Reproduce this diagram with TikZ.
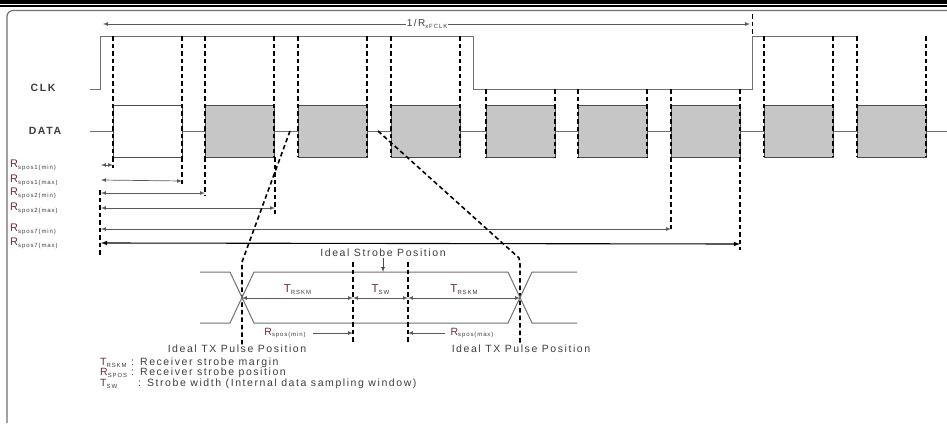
\documentclass[tikz,border=0pt]{standalone}
\usepackage{fontspec}
\setmainfont{Liberation Sans}
\newfontfamily\wide[LetterSpace=15]{Liberation Sans}
\definecolor{wave}{HTML}{707070}
\definecolor{cellfill}{HTML}{C6C6C6}
\definecolor{ink}{HTML}{3C3C3C}
\definecolor{maroon}{HTML}{6B2C40}
\newcommand{\lo}[1]{\raisebox{-0.35ex}{\fontsize{6}{6}\selectfont #1}}

\begin{document}
\begin{tikzpicture}[x=1pt, y=-1pt, sig/.style={draw=wave, line width=1pt}, strb/.style={draw=black, line width=1.6pt, dash pattern=on 4.5pt off 3pt}, cell/.style={draw=black!70, line width=1pt, fill=cellfill}, n/.style={latex-latex, line width=0.7pt, draw=black!65}, lab/.style={font=\wide\fontsize{10.5}{11}\selectfont, text=ink, inner sep=1pt}, rlab/.style={font=\wide\fontsize{11}{11}\selectfont, text=ink, inner sep=0pt, anchor=west}]
            \useasboundingbox (0,0) rectangle (947,423);
            % frame
            \fill[black] (0,0) rectangle (947,3.5);
            \draw[black, line width=1.2pt] (0,6) -- (947,6);
            \draw[wave, line width=1.2pt, rounded corners=6] (7,423) -- (7,10.5) -- (947,10.5);
            % nodes
            \node[lab, font=\wide\bfseries\fontsize{10.5}{11}\selectfont] (clk) at (43,88) {CLK};
            \node[lab, font=\wide\bfseries\fontsize{10.5}{11}\selectfont] (data) at (45,131) {DATA};
            \node[rlab] (r1min) at (10,165) {{\color{maroon}R}\lo{spos1(min)}};
            \node[rlab] (r1max) at (10,180) {{\color{maroon}R}\lo{spos1(max)}};
            \node[rlab] (r2min) at (10,193) {{\color{maroon}R}\lo{spos2(min)}};
            \node[rlab] (r2max) at (10,208) {{\color{maroon}R}\lo{spos2(max)}};
            \node[rlab] (r7min) at (10,229) {{\color{maroon}R}\lo{spos7(min)}};
            \node[rlab] (r7max) at (10,243) {{\color{maroon}R}\lo{spos7(max)}};
            % waveforms
            \draw[sig] (90,89) -- (100,89) -- (100,36) -- (473,36) -- (473,89) -- (752,89) -- (752,36) -- (857,36);
            \draw[sig] (90,131) -- (947,131);
            \foreach \xl/\yt/\fc in {113/36/white, 205/36/cellfill, 298/36/cellfill, 391/36/cellfill, 486/89/cellfill, 578/89/cellfill, 671/89/cellfill, 764/36/cellfill, 857/36/cellfill} {
                \draw[cell, fill=\fc] (\xl,105) rectangle ++(69,52);
                \draw[strb] (\xl,\yt) -- (\xl,157);
                \draw[strb] (\xl+69,\yt) -- (\xl+69,157);
            }
            \draw[strb] (113,157) -- (113,168);
            \draw[strb] (182,157) -- (182,187);
            \draw[strb] (205,157) -- (205,196);
            \draw[strb] (275,157) -- (275,215);
            \draw[strb] (671,157) -- (671,230);
            \draw[strb] (740,157) -- (740,250);
            \draw[strb] (100,190) -- (100,255);
            \draw[strb, line width=1pt] (752,14) -- (752,36);
            % period
            \coordinate (p0) at (103,24);
            \coordinate (p1) at (750,24);
            \draw[n] (p0) -- (p1);
            \node[lab, fill=white, font=\wide\fontsize{10}{11}\selectfont] (per) at (427,24) {1/R\lo{xFCLK}};
            % strobe position arrows
            \coordinate (s0) at (101,0);
            \draw[n] (s0 |- r1min) -- (113,165);
            \draw[n] (s0 |- r1max) -- (182,181);
            \draw[n] (s0 |- r2min) -- (205,193);
            \draw[n] (s0 |- r2max) -- (275,208);
            \draw[n] (s0 |- r7min) -- (671,229);
            \draw[n, draw=black, line width=1.1pt] (s0 |- r7max) -- (740,244);
            % zoom lines
            \draw[strb] (290,131) -- (242,262) -- (242,345);
            \draw[strb] (378,131) -- (519,258) -- (520,264) -- (520,345);
            % eye
            \draw[sig] (200,272) -- (230,272) -- (254,323) -- (508,323) -- (532,272) -- (577,272);
            \draw[sig] (200,323) -- (230,323) -- (254,272) -- (508,272) -- (532,323) -- (577,323);
            \draw[strb, line width=1.2pt] (353,262) -- (353,343);
            \draw[strb, line width=1.2pt] (408,262) -- (408,343);
            \coordinate (txl) at (242,298);
            \coordinate (stl) at (353,298);
            \coordinate (str) at (408,298);
            \coordinate (txr) at (520,298);
            \draw[n] (txl) -- (stl) node[lab, font=\wide\fontsize{11.5}{12}\selectfont, midway, above=2pt] (tr1) {{\color{maroon}T}\lo{RSKM}};
            \draw[n] (stl) -- (str) node[lab, font=\wide\fontsize{11.5}{12}\selectfont, midway, above=2pt] (tsw) {{\color{maroon}T}\lo{SW}};
            \draw[n] (str) -- (txr) node[lab, font=\wide\fontsize{11.5}{12}\selectfont, midway, above=2pt] (tr2) {{\color{maroon}T}\lo{RSKM}};
            \node[lab] (isp) at (383,253) {Ideal Strobe Position};
            \draw[-latex, line width=0.7pt, draw=black!70] (isp.south) -- (383,272);
            \node[lab] (rmin) at (285,333) {{\color{maroon}R}\lo{spos(min)}};
            \draw[-latex, line width=0.7pt, draw=black!65] (rmin.east) ++(6,0) -- (stl |- rmin);
            \node[lab] (rmax) at (472,333) {{\color{maroon}R}\lo{spos(max)}};
            \draw[-latex, line width=0.7pt, draw=black!65] (rmax.west) ++(-4,0) -- (str |- rmax);
            \node[lab] (itx1) at (237,349) {Ideal TX Pulse Position};
            \node[lab] (itx2) at (521,349) {Ideal TX Pulse Position};
            % legend
            \node[rlab, font=\wide\fontsize{10.5}{11}\selectfont] (lg1) at (100,363) {\makebox[31pt][l]{{\color{maroon}T}\lo{RSKM}}: Receiver strobe margin};
            \node[rlab, font=\wide\fontsize{10.5}{11}\selectfont] (lg2) at (100,373) {\makebox[31pt][l]{{\color{maroon}R}\lo{SPOS}}: Receiver strobe position};
            \node[rlab, font=\wide\fontsize{10.5}{11}\selectfont] (lg3) at (100,384) {\makebox[38pt][l]{{\color{maroon}T}\lo{SW}}: Strobe width (Internal data sampling window)};
        \end{tikzpicture}
\end{document}
